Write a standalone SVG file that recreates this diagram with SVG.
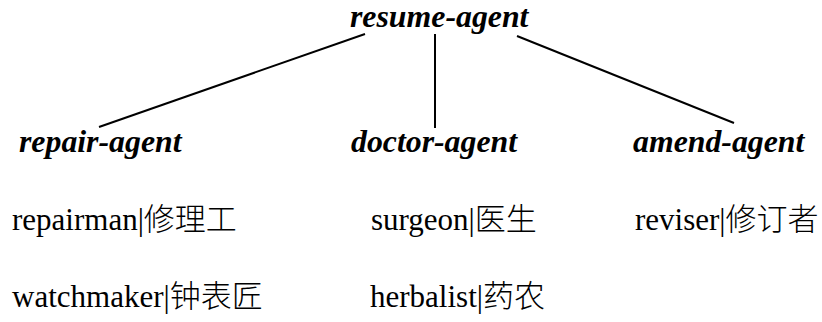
<svg xmlns="http://www.w3.org/2000/svg" width="822" height="322" viewBox="0 0 822 322">
  <style>
    .agent { font-family: "Liberation Serif", "Times New Roman", serif; font-weight: bold; font-style: italic; font-size: 31.8px; fill: #000; }
    .item { font-family: "Liberation Serif", "Times New Roman", "Noto Sans CJK SC", serif; font-size: 31px; fill: #000; }
    .cjk { font-family: "Noto Sans CJK SC", sans-serif; font-weight: 300; }
    .edge { stroke: #000; stroke-width: 2; fill: none; }
  </style>
  <rect width="822" height="322" fill="#fff"/>

  <!-- links from the root to its three children -->
  <g id="connectors">
    <line class="edge" x1="365" y1="34" x2="99" y2="127"/>
    <line class="edge" x1="435" y1="34" x2="435" y2="128"/>
    <line class="edge" x1="517" y1="36" x2="734" y2="123"/>
  </g>

  <g id="resume-agent">
    <text class="agent" x="350" y="27">resume-agent</text>
  </g>
  <g id="repair-agent">
    <text class="agent" x="19" y="152">repair-agent</text>
  </g>
  <g id="doctor-agent">
    <text class="agent" x="351" y="152">doctor-agent</text>
  </g>
  <g id="amend-agent">
    <text class="agent" x="633" y="152">amend-agent</text>
  </g>

  <!-- words listed under each agent -->
  <g id="repairman">
    <text class="item" x="12" y="230">repairman|<tspan class="cjk">修理工</tspan></text>
  </g>
  <g id="watchmaker">
    <text class="item" x="12" y="307">watchmaker|<tspan class="cjk">钟表匠</tspan></text>
  </g>
  <g id="surgeon">
    <text class="item" x="371" y="230">surgeon|<tspan class="cjk">医生</tspan></text>
  </g>
  <g id="herbalist">
    <text class="item" x="370" y="307">herbalist|<tspan class="cjk">药农</tspan></text>
  </g>
  <g id="reviser">
    <text class="item" x="635" y="230">reviser|<tspan class="cjk">修订者</tspan></text>
  </g>
</svg>
